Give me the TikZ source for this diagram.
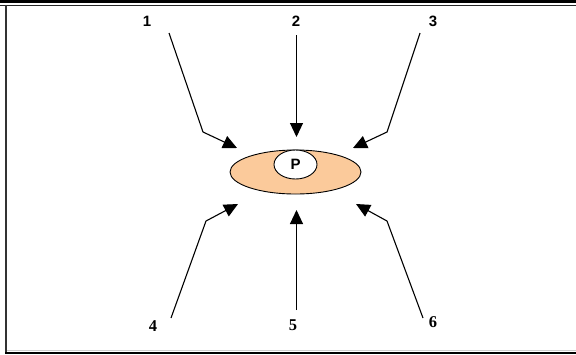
\documentclass[tikz,border=0pt]{standalone}
\usepackage{fontspec}
\setmainfont{Liberation Serif}
\setsansfont{Liberation Sans}
\usetikzlibrary{arrows.meta,shapes.geometric}
\definecolor{tanfill}{RGB}{251,202,155}
\tikzset{
  arr/.style={draw=black, line width=1.1bp, -{Triangle[length=14bp,width=13bp]}},
  toplab/.style={font=\sffamily\bfseries\fontsize{15bp}{17bp}\selectfont, inner sep=0pt},
  botlab/.style={font=\rmfamily\bfseries\fontsize{16.5bp}{18bp}\selectfont, inner sep=0pt},
}
\begin{document}
\begin{tikzpicture}[x=1bp,y=-1bp]
\useasboundingbox (0,0) rectangle (576,354);
% frame
\fill[black] (0,0) rectangle (576,3);
\draw[black!85, line width=1.2bp] (0,5.5) -- (576,5.5);
\draw[black!80, line width=2bp] (6,5) -- (6,352);
\draw[black!20, line width=1bp] (7,350) -- (576,350);
\fill[black] (5,351.5) rectangle (576,354);
% ellipses
\node (big) [draw=black, line width=0.9bp, fill=tanfill, shape=ellipse, minimum width=131bp, minimum height=44bp, inner sep=0pt] at (295.5,172) {};
\node (p) [draw=black, line width=0.9bp, fill=white, shape=ellipse, minimum width=43bp, minimum height=29bp, inner sep=0pt, font=\sffamily\bfseries\fontsize{15bp}{17bp}\selectfont] at (295.5,164.5) {P};
% labels
\node (l1) [toplab] at (147,21) {1};
\node (l2) [toplab] at (296,21) {2};
\node (l3) [toplab] at (433,21) {3};
\node (l4) [botlab] at (153,326) {4};
\node (l5) [botlab] at (293,325) {5};
\node (l6) [botlab] at (433,322) {6};
% arrow coordinates
\coordinate (s1) at (169,33);  \coordinate (b1) at (203,132); \coordinate (t1) at (237,148);
\coordinate (s2) at (296.5,35); \coordinate (t2) at (296.5,137);
\coordinate (s3) at (420,33);  \coordinate (b3) at (387,132); \coordinate (t3) at (353,148);
\coordinate (s4) at (171,318); \coordinate (b4) at (206,221); \coordinate (t4) at (238,204);
\coordinate (s5) at (296.5,310); \coordinate (t5) at (296.5,210);
\coordinate (s6) at (423,318); \coordinate (b6) at (387,221); \coordinate (t6) at (356,204);
\draw[arr] (s1) -- (b1) -- (t1);
\draw[arr] (s2) -- (t2);
\draw[arr] (s3) -- (b3) -- (t3);
\draw[arr] (s4) -- (b4) -- (t4);
\draw[arr] (s5) -- (t5);
\draw[arr] (s6) -- (b6) -- (t6);
\end{tikzpicture}
\end{document}
